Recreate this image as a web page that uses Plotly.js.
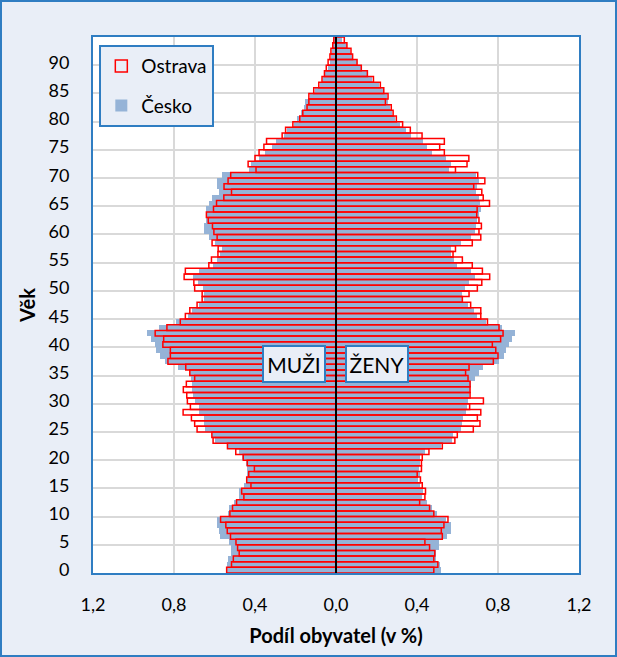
<!DOCTYPE html>
<html>
<head>
<meta charset="utf-8">
<script src="https://cdn.plot.ly/plotly-3.0.1.min.js"></script>
<style>
  html, body { margin: 0; padding: 0; background: #e9eef7; }
  #frame { width: 617px; height: 657px; box-sizing: border-box; border: 2px solid #2f7dc2; background: #e9eef7; }
  #chart { width: 613px; height: 653px; }
</style>
</head>
<body>
<div id="frame"><div id="chart"></div></div>
<script>
// Age categories (0 … 94)
const ages = [0,1,2,3,4,5,6,7,8,9,10,11,12,13,14,15,16,17,18,19,20,21,22,23,24,25,26,27,28,29,
  30,31,32,33,34,35,36,37,38,39,40,41,42,43,44,45,46,47,48,49,50,51,52,53,54,55,56,57,58,59,
  60,61,62,63,64,65,66,67,68,69,70,71,72,73,74,75,76,77,78,79,80,81,82,83,84,85,86,87,88,89,
  90,91,92,93,94];

// Ostrava – men (share of population, %)
const ostravaMen = [0.540,0.516,0.507,0.478,0.486,0.494,0.521,0.537,0.544,0.570,
  0.524,0.511,0.491,0.455,0.466,0.420,0.441,0.431,0.403,0.438,
  0.458,0.495,0.536,0.607,0.613,0.686,0.698,0.714,0.755,0.719,
  0.734,0.737,0.754,0.739,0.698,0.722,0.742,0.830,0.818,0.818,
  0.855,0.851,0.893,0.835,0.769,0.744,0.722,0.686,0.661,0.661,
  0.698,0.702,0.750,0.744,0.628,0.615,0.583,0.582,0.612,0.587,
  0.603,0.610,0.631,0.640,0.605,0.590,0.554,0.516,0.553,0.533,
  0.520,0.395,0.434,0.400,0.380,0.356,0.343,0.266,0.249,0.213,
  0.179,0.164,0.143,0.134,0.134,0.110,0.085,0.069,0.057,0.048,
  0.039,0.030,0.025,0.016,0.011];

// Ostrava – women
const ostravaWomen = [0.483,0.503,0.483,0.488,0.462,0.439,0.525,0.520,0.533,0.553,
  0.483,0.462,0.413,0.439,0.442,0.426,0.417,0.401,0.422,0.422,
  0.426,0.459,0.525,0.587,0.599,0.678,0.711,0.698,0.715,0.660,
  0.728,0.662,0.662,0.662,0.652,0.640,0.657,0.777,0.800,0.789,
  0.772,0.813,0.825,0.805,0.748,0.715,0.715,0.665,0.624,0.657,
  0.698,0.720,0.759,0.723,0.673,0.624,0.578,0.590,0.673,0.715,
  0.706,0.718,0.706,0.695,0.697,0.758,0.727,0.720,0.680,0.735,
  0.700,0.590,0.647,0.656,0.535,0.512,0.535,0.425,0.367,0.329,
  0.298,0.282,0.273,0.244,0.257,0.236,0.219,0.185,0.155,0.125,
  0.104,0.082,0.074,0.054,0.041];

// Česko – men
const ceskoMen = [0.544,0.537,0.532,0.521,0.521,0.527,0.574,0.579,0.590,0.590,
  0.532,0.527,0.504,0.478,0.478,0.455,0.445,0.441,0.441,0.445,
  0.466,0.477,0.532,0.598,0.610,0.648,0.651,0.653,0.676,0.678,
  0.698,0.706,0.709,0.711,0.714,0.722,0.780,0.846,0.871,0.888,
  0.896,0.912,0.934,0.876,0.788,0.730,0.711,0.676,0.653,0.653,
  0.656,0.680,0.706,0.676,0.607,0.590,0.574,0.565,0.598,0.626,
  0.653,0.653,0.640,0.643,0.640,0.627,0.610,0.580,0.590,0.590,
  0.565,0.430,0.421,0.380,0.352,0.315,0.298,0.257,0.241,0.205,
  0.192,0.172,0.156,0.151,0.126,0.102,0.077,0.064,0.052,0.041,
  0.030,0.025,0.020,0.015,0.008];

// Česko – women
const ceskoWomen = [0.517,0.512,0.495,0.495,0.508,0.508,0.550,0.566,0.566,0.541,
  0.500,0.472,0.450,0.426,0.429,0.417,0.406,0.413,0.409,0.413,
  0.413,0.440,0.517,0.574,0.578,0.616,0.624,0.629,0.640,0.648,
  0.653,0.657,0.660,0.665,0.686,0.706,0.726,0.805,0.830,0.838,
  0.855,0.871,0.884,0.822,0.739,0.698,0.680,0.653,0.620,0.624,
  0.635,0.657,0.686,0.665,0.599,0.583,0.569,0.566,0.619,0.665,
  0.686,0.693,0.698,0.706,0.716,0.713,0.705,0.690,0.697,0.705,
  0.693,0.557,0.570,0.545,0.475,0.450,0.430,0.372,0.346,0.318,
  0.293,0.277,0.269,0.257,0.252,0.236,0.211,0.178,0.152,0.125,
  0.105,0.082,0.071,0.054,0.030];

const xTickVals = [-1.2,-0.8,-0.4,0,0.4,0.8,1.2];
const xTickText = ['1,2','0,8','0,4','0,0','0,4','0,8','1,2'];
const yTickVals = [0,5,10,15,20,25,30,35,40,45,50,55,60,65,70,75,80,85,90];
const yGridVals = [4.5,9.5,14.5,19.5,24.5,29.5,34.5,39.5,44.5,49.5,54.5,59.5,64.5,69.5,74.5,79.5,84.5,89.5];

const BLUE_FILL = '#95b3d7';
const RED = '#ff0000';
const FRAME = '#2f7dc2';
const FONT = 'Lato, "Open Sans", sans-serif';

const neg = a => a.map(v => -v);

const traces = [
  { type:'bar', orientation:'h', name:'Česko', y:ages, x:neg(ceskoMen),
    marker:{color:BLUE_FILL, line:{width:0}}, legendgroup:'c', legendrank:2, showlegend:true },
  { type:'bar', orientation:'h', name:'Česko', y:ages, x:ceskoWomen,
    marker:{color:BLUE_FILL, line:{width:0}}, legendgroup:'c', showlegend:false },
  { type:'bar', orientation:'h', name:'Ostrava', y:ages, x:neg(ostravaMen),
    marker:{color:'rgba(255,255,255,0)', line:{color:RED, width:1.5}}, legendgroup:'o', legendrank:1, showlegend:true },
  { type:'bar', orientation:'h', name:'Ostrava', y:ages, x:ostravaWomen,
    marker:{color:'rgba(255,255,255,0)', line:{color:RED, width:1.5}}, legendgroup:'o', showlegend:false }
];

const layout = {
  width:613, height:653,
  paper_bgcolor:'#e9eef7', plot_bgcolor:'#ffffff',
  margin:{l:91, r:36, t:35, b:82},
  font:{family:FONT, color:'#000000', size:17},
  barmode:'overlay', bargap:0,
  showlegend:true,
  legend:{x:0.013, y:0.985, xanchor:'left', yanchor:'top',
    bgcolor:'#e9eef7', bordercolor:FRAME, borderwidth:2,
    font:{family:FONT, size:19, color:'#000'}, tracegroupgap:12, itemwidth:30},
  xaxis:{range:[-1.2,1.2], tickmode:'array', tickvals:xTickVals, ticktext:xTickText,
    showgrid:true, gridcolor:'#d9d9d9', gridwidth:2, zeroline:false,
    showline:true, mirror:true, linecolor:FRAME, linewidth:2, ticks:'',
    ticklabelstandoff:14, tickfont:{size:18},
    title:{text:'<b>Podíl obyvatel (v %)</b>', font:{size:20}, standoff:15}, fixedrange:true},
  yaxis:{range:[-0.5,94.5], tickmode:'array', tickvals:yTickVals,
    showgrid:false, zeroline:false,
    minor:{tickmode:'array', tickvals:yGridVals, showgrid:true, gridcolor:'#d9d9d9', gridwidth:2, ticks:''},
    showline:true, mirror:true, linecolor:FRAME, linewidth:2, ticks:'',
    ticklabelstandoff:18, tickfont:{size:18},
    title:{text:'<b>Věk</b>', font:{size:20}, standoff:8}, fixedrange:true},
  shapes:[
    {type:'line', xref:'x', yref:'paper', x0:0, x1:0, y0:0, y1:1, layer:'above',
      line:{color:'#000000', width:2}}
  ],
  annotations:[
    {xref:'x', yref:'y', x:-0.205, y:36.6, text:'MUŽI', showarrow:false,
      font:{family:FONT, size:21, color:'#000'}, bgcolor:'#e9eef7', bordercolor:FRAME,
      borderwidth:2, width:58, height:32},
    {xref:'x', yref:'y', x:0.202, y:36.6, text:'ŽENY', showarrow:false,
      font:{family:FONT, size:21, color:'#000'}, bgcolor:'#e9eef7', bordercolor:FRAME,
      borderwidth:2, width:58, height:32}
  ],
  hovermode:false
};

Plotly.newPlot('chart', traces, layout, {staticPlot:true, displayModeBar:false});
</script>
</body>
</html>
